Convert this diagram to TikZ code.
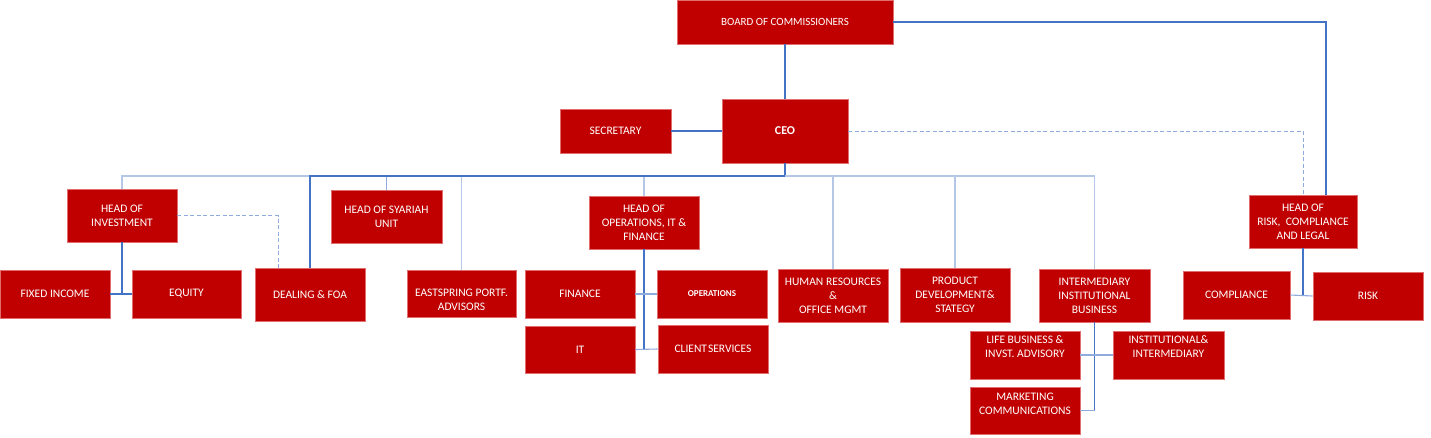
\documentclass[tikz,border=0pt]{standalone}
\usepackage{fontspec}
\setmainfont{Carlito}
\definecolor{boxred}{RGB}{192,0,0}
\definecolor{boxedge}{RGB}{225,110,110}
\definecolor{dkblue}{RGB}{68,114,196}
\definecolor{mdblue}{RGB}{143,170,220}
\definecolor{ltblue}{RGB}{180,199,231}
\begin{document}
\begin{tikzpicture}[x=1pt,y=-1pt,
 box/.style={draw=boxedge, line width=0.8pt, fill=boxred, text=white, align=center, inner sep=0pt, font=\fontsize{11.5}{14}\selectfont},
 txt/.style={text=white, align=center, inner sep=0pt, font=\fontsize{11.5}{14}\selectfont},
 dk/.style={draw=dkblue, line width=1.1pt},
 md/.style={draw=mdblue, line width=1.1pt},
 lt/.style={draw=ltblue, line width=1.5pt},
 dsh/.style={draw=mdblue, line width=0.9pt, dash pattern=on 4pt off 2.5pt}]
\useasboundingbox (0,0) rectangle (1431,437);
% boxes
\node[box, minimum width=216pt, minimum height=44pt, font=\fontsize{11}{14}\selectfont] (board) at (785,22) {BOARD OF COMMISSIONERS};
\node[box, minimum width=126pt, minimum height=64pt, font=\fontsize{12}{14}\selectfont\bfseries] (ceo) at (785,131) {CEO};
\node[box, minimum width=111pt, minimum height=44pt] (sec) at (615.5,131) {SECRETARY};
\node[box, minimum width=110pt, minimum height=53pt] (hinv) at (122,215.5) {HEAD OF\\INVESTMENT};
\node[box, minimum width=110pt, minimum height=48pt] (fixed) at (55,294) {FIXED INCOME};
\node[box, minimum width=109pt, minimum height=48pt] (equity) at (186.5,294) {EQUITY};
\node[box, minimum width=110pt, minimum height=53pt] (dealing) at (310,294.5) {DEALING \& FOA};
\node[box, minimum width=111pt, minimum height=53pt] (syariah) at (386.5,216.5) {HEAD OF SYARIAH\\UNIT};
\node[box, minimum width=109pt, minimum height=47pt, label={[txt,yshift=-6pt]center:EASTSPRING PORTF.\\ADVISORS}] (east) at (461.5,293.5) {};
\node[box, minimum width=110pt, minimum height=53pt] (hops) at (644,222.5) {HEAD OF\\OPERATIONS, IT \&\\FINANCE};
\node[box, minimum width=110pt, minimum height=48pt] (finance) at (580,294) {FINANCE};
\node[box, minimum width=110pt, minimum height=48pt, font=\fontsize{9}{11}\selectfont\bfseries] (oper) at (712,294) {OPERATIONS};
\node[box, minimum width=110pt, minimum height=47pt] (it) at (580,349.5) {IT};
\node[box, minimum width=110pt, minimum height=48pt] (client) at (713,349) {CLIENT\hspace{1pt}SERVICES};
\node[box, minimum width=110pt, minimum height=53pt] (hr) at (833,295.5) {HUMAN RESOURCES\\\&\\OFFICE MGMT};
\node[box, minimum width=110pt, minimum height=54pt] (prod) at (955,295) {PRODUCT\\DEVELOPMENT\&\\STATEGY};
\node[box, minimum width=111pt, minimum height=53pt] (inter) at (1094.5,295.5) {INTERMEDIARY\\INSTITUTIONAL\\BUSINESS};
\node[box, minimum width=110pt, minimum height=48pt, label={[txt,yshift=8pt]center:LIFE BUSINESS \&\\INVST. ADVISORY}] (life) at (1025,355) {};
\node[box, minimum width=111pt, minimum height=48pt, label={[txt,yshift=8pt]center:INSTITUTIONAL\&\\INTERMEDIARY}] (inst) at (1168.5,355) {};
\node[box, minimum width=110pt, minimum height=47pt, label={[txt,yshift=7pt]center:MARKETING\\COMMUNICATIONS}] (mkt) at (1025,410.5) {};
\node[box, minimum width=108pt, minimum height=53pt] (hrisk) at (1303,221.5) {HEAD OF\\RISK,\ \ COMPLIANCE\\AND LEGAL};
\node[box, minimum width=107pt, minimum height=48pt] (comp) at (1236.5,295) {COMPLIANCE};
\node[box, minimum width=110pt, minimum height=48pt] (risk) at (1368,296) {RISK};
% top connectors
\draw[dk] (board.south) -- (ceo.north);
\draw[dk] (board.east) -| ([xshift=23pt]hrisk.north);
\draw[dsh] (ceo.east) -| (hrisk.north);
\draw[dk] (sec.east) -- (ceo.west);
% bus
\coordinate (bus) at (785,176);
\draw[dk] (ceo.south) -- (bus);
\draw[lt] (bus) -| (hinv.north);
\draw[lt] (bus) -| (east.north);
\draw[lt] (bus) -| (hops.north);
\draw[lt] (bus) -| (hr.north);
\draw[lt] (bus) -| (prod.north);
\draw[lt] (bus) -| (inter.north);
\draw[md] (bus) -| (syariah.north);
\draw[dk] (bus) -| (dealing.north);
% investment
\draw[dk] (hinv.south) -- (hinv.south |- fixed.east);
\draw[dk] (fixed.east) -- (equity.west);
\draw[dsh] (hinv.east) -| ([xshift=-32pt]dealing.north);
% operations
\draw[dk] (hops.south) -- (hops.south |- it.east);
\draw[md] (finance.east) -- (oper.west);
\draw[md] (it.east) -- (client.west);
% intermediary
\draw[dk] (inter.south) -- (inter.south |- mkt.east);
\draw[md] (life.east) -- (inst.west);
\draw[md] (mkt.east) -- (inter.south |- mkt.east);
% risk
\draw[dk] (hrisk.south) -- (hrisk.south |- comp.east);
\draw[md] (comp.east) -- (risk.west);
\end{tikzpicture}
\end{document}
